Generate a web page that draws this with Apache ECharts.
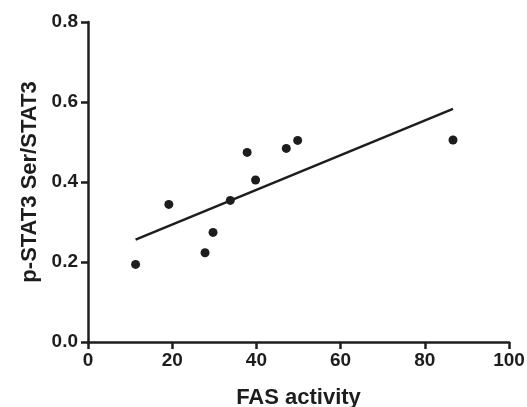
<!DOCTYPE html>
<html>
<head>
<meta charset="utf-8">
<script src="https://cdn.jsdelivr.net/npm/echarts@6/dist/echarts.min.js"></script>
<style>
  html, body { margin: 0; padding: 0; background: #fff; }
  #chart { width: 527px; height: 407px; }
</style>
</head>
<body>
<div id="chart"></div>
<script>
// data
var fasActivity = [11.3, 19.2, 27.8, 29.7, 33.8, 37.8, 39.8, 47.1, 49.8, 86.7];
var pStat3 = [0.194, 0.344, 0.223, 0.274, 0.354, 0.474, 0.405, 0.484, 0.504, 0.505];
// fitted line end points
var fitX = [11.3, 86.7];
var fitY = [0.256, 0.583];
var xTicks = [0, 20, 40, 60, 80, 100];
var yTicks = [0.0, 0.2, 0.4, 0.6, 0.8];

var ink = '#1f1c1d';
var font = 'Liberation Sans';

var points = fasActivity.map(function (x, i) { return [x, pStat3[i]]; });
var fit = fitX.map(function (x, i) { return [x, fitY[i]]; });

var chart = echarts.init(document.getElementById('chart'));
chart.setOption({
    animation: false,
    grid: { left: 88, right: 18, top: 22, bottom: 65, outerBoundsMode: 'none', containLabel: false },
    xAxis: {
        type: 'value',
        min: xTicks[0],
        max: xTicks[xTicks.length - 1],
        interval: 20,
        name: 'FAS activity',
        nameLocation: 'middle',
        nameGap: 45,
        nameTextStyle: { color: ink, fontFamily: font, fontWeight: 'bold', fontSize: 22 },
        splitLine: { show: false },
        axisLine: { onZero: false, lineStyle: { color: ink, width: 2.5 } },
        axisTick: { length: 7, lineStyle: { color: ink, width: 2.5 } },
        axisLabel: {
            color: ink, fontFamily: font, fontWeight: 'bold', fontSize: 19, margin: 9,
            formatter: function (v) { return xTicks.indexOf(v) >= 0 ? String(v) : ''; }
        }
    },
    yAxis: {
        type: 'value',
        min: yTicks[0],
        max: yTicks[yTicks.length - 1],
        interval: 0.2,
        name: 'p-STAT3 Ser/STAT3',
        nameLocation: 'middle',
        nameGap: 47,
        nameTextStyle: { color: ink, fontFamily: font, fontWeight: 'bold', fontSize: 22 },
        splitLine: { show: false },
        axisLine: { show: true, onZero: false, lineStyle: { color: ink, width: 2.5 } },
        axisTick: { show: true, length: 7, lineStyle: { color: ink, width: 2.5 } },
        axisLabel: {
            color: ink, fontFamily: font, fontWeight: 'bold', fontSize: 19, margin: 10,
            formatter: function (v) { return v.toFixed(1); }
        }
    },
    series: [
        {
            type: 'line',
            data: fit,
            symbol: 'none',
            lineStyle: { color: ink, width: 2.5 },
            z: 2
        },
        {
            type: 'scatter',
            data: points,
            symbol: 'circle',
            symbolSize: 9,
            itemStyle: { color: ink, opacity: 1 },
            z: 3
        }
    ]
});
</script>
</body>
</html>
